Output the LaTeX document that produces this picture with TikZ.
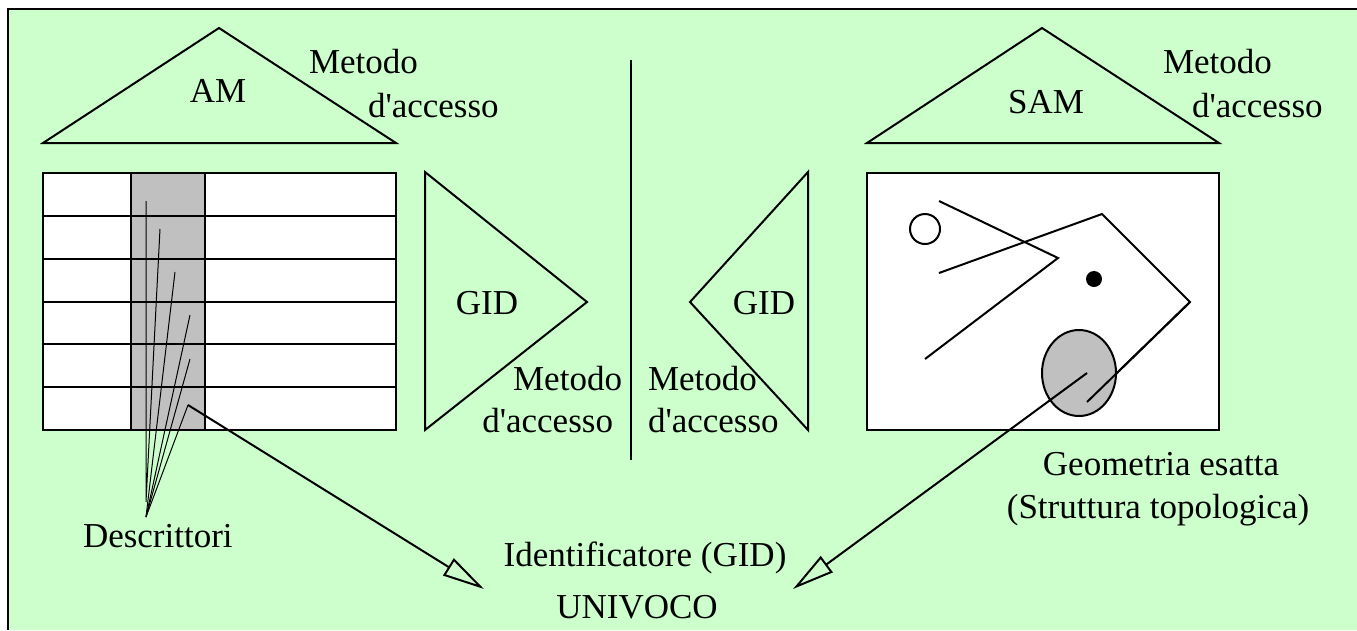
\documentclass[tikz,border=0pt]{standalone}
\usepackage{fontspec}
\setmainfont{Liberation Serif}
\usetikzlibrary{arrows.meta}
\definecolor{sfondo}{HTML}{CCFFCC}
\definecolor{grigio}{HTML}{C0C0C0}

\begin{document}
\begin{tikzpicture}[x=1pt, y=-1pt, line width=2pt,
    testo/.style={inner sep=0pt, font=\fontsize{35}{42}\selectfont},
    filo/.style={line width=1pt},
    freccia/.style={-{Triangle[open, length=42pt, width=20pt]}}]
\useasboundingbox (0,0) rectangle (1357,630);
\fill[sfondo] (8,9) rectangle (1357,630);
\draw (1357,9) -- (8,9) -- (8,630);

% metodi d'accesso in alto
\draw (43,143) -- (219,28) -- (396,143) -- cycle;
\node[testo, anchor=base] (am) at (218,102) {AM};
\node[testo, anchor=base west] (am1) at (308,73) {Metodo};
\node[testo, anchor=base west] (am2) at (367,117) {d\textquotesingle accesso};

\draw (867,143) -- (1042,28) -- (1219,143) -- cycle;
\node[testo, anchor=base] (sam) at (1046,113) {SAM};
\node[testo, anchor=base west] (sam1) at (1162,73) {Metodo};
\node[testo, anchor=base west] (sam2) at (1191,117) {d\textquotesingle accesso};

% tabella
\fill[white] (43,173) rectangle (396,430);
\fill[grigio] (131,173) rectangle (205,430);
\draw (43,173) rectangle (396,430);
\foreach \y in {216,259,302,344,387}
    \draw (43,\y) -- (396,\y);
\draw (131,173) -- (131,430) (205,173) -- (205,430);

% descrittori
\coordinate (d1) at (146,201);
\coordinate (d2) at (160,229);
\coordinate (d3) at (175,272);
\coordinate (d4) at (190,315);
\coordinate (d5) at (190,359);
\coordinate (d6) at (188,405);
\coordinate (da) at (146,502);
\coordinate (db) at (146,517);
\draw[filo] (d1) -- (da) (d2) -- (da);
\foreach \i in {3,...,6}
    \draw[filo] (d\i) -- (db);
\node[testo, anchor=base west] (descr) at (82,547) {Descrittori};

% GID
\draw (425,172) -- (587,302) -- (425,430) -- cycle;
\node[testo, anchor=base] (gid1) at (487,314) {GID};
\node[testo, anchor=base east] (mid1) at (623,390) {Metodo};
\node[testo, anchor=base east] (mid2) at (614,432) {d\textquotesingle accesso};

\draw (631,60) -- (631,460);

\draw (808,172) -- (690,302) -- (808,430) -- cycle;
\node[testo, anchor=base] (gid2) at (764,314) {GID};
\node[testo, anchor=base west] (mdx1) at (647,390) {Metodo};
\node[testo, anchor=base west] (mdx2) at (647,432) {d\textquotesingle accesso};

% geometria
\fill[white] (867,173) rectangle (1219,430);
\draw (867,173) rectangle (1219,430);
\draw (925,229) circle (15);
\fill (1094,279) circle (8);
\draw (939,201) -- (1058,258) -- (925,359);
\draw (939,273) -- (1102,214) -- (1190,302) -- (1087,402);
\draw[fill=grigio] (1079,373) ellipse (37 and 43);
\draw (1190,302) -- (1087,402);
\coordinate (geo) at (1087,373);
\node[testo, anchor=base] (geo1) at (1161,475) {Geometria esatta};
\node[testo, anchor=base] (geo2) at (1158,518) {(Struttura topologica)};

% identificatore
\node[testo, anchor=base] (ident) at (645,566) {Identificatore (GID)};
\node[testo, anchor=base] (univ) at (637,618) {UNIVOCO};
\coordinate (ps) at (484,589);
\coordinate (pd) at (793,589);
\draw[freccia] (d6) -- (ps);
\draw[freccia] (geo) -- (pd);
\end{tikzpicture}
\end{document}
